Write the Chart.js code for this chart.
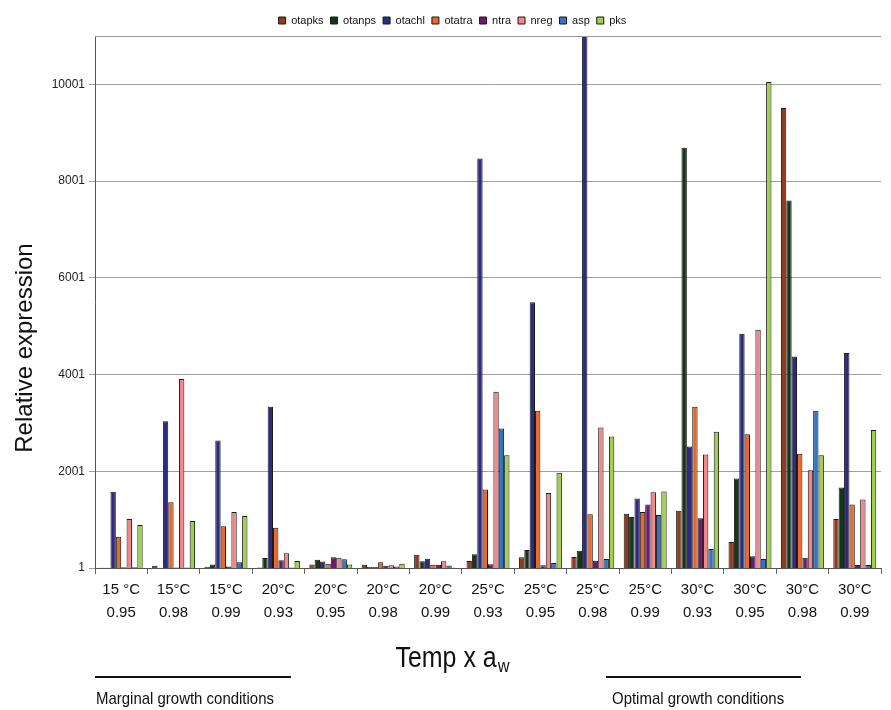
<!DOCTYPE html>
<html>
<head>
<meta charset="utf-8">
<script src="https://cdn.jsdelivr.net/npm/chart.js@4.4.1/dist/chart.umd.min.js"></script>
<style>
html,body{margin:0;padding:0;background:#fff;}
#wrap{width:891px;height:710px;position:relative;}
</style>
</head>
<body>
<div id="wrap"><canvas id="c" width="891" height="710"></canvas></div>
<script>
const categories = [
  ['15 °C','0.95'],['15°C','0.98'],['15°C','0.99'],['20°C','0.93'],['20°C','0.95'],
  ['20°C','0.98'],['20°C','0.99'],['25°C','0.93'],['25°C','0.95'],['25°C','0.98'],
  ['25°C','0.99'],['30°C','0.93'],['30°C','0.95'],['30°C','0.98'],['30°C','0.99']
];
const seriesNames = ['otapks','otanps','otachl','otatra','ntra','nreg','asp','pks'];
const otapks = [8, 50, 25, 10, 72, 66, 273, 145, 221, 228, 1125, 1187, 539, 9511, 1015];
const otanps = [8, 5, 75, 207, 170, 20, 141, 284, 373, 359, 1057, 8690, 1850, 7600, 1664];
const otachl = [1580, 3037, 2636, 3333, 135, 20, 190, 8468, 5494, 11800, 1436, 2512, 4846, 4376, 4446];
const otatra = [648, 1360, 863, 834, 87, 120, 66, 1622, 3251, 1112, 1160, 3334, 2769, 2361, 1312];
const ntra   = [15, 10, 30, 160, 224, 50, 66, 77, 56, 152, 1312, 1030, 243, 214, 63];
const nreg   = [1014, 3907, 1160, 304, 211, 60, 141, 3645, 1553, 2906, 1568, 2347, 4929, 2024, 1415];
const asp    = [15, 10, 120, 10, 182, 30, 55, 2885, 104, 186, 1098, 394, 186, 3251, 63];
const pks    = [890, 973, 1077, 145, 72, 87, 5, 2334, 1968, 2719, 1581, 2817, 10050, 2334, 2852];
const yTicks = [1, 2001, 4001, 6001, 8001, 10001];
const yMin = 1, yMax = 11001;

const seriesData = [otapks, otanps, otachl, otatra, ntra, nreg, asp, pks];
const colors = ['#93391c','#16361a','#2d2a82','#e8692a','#6b1a6e','#f2868a','#3474c2','#9fd04e'];

const REG = "'Liberation Sans',Arial,sans-serif";

function narrowText(ctx, text, x, y, font, sx) {
  ctx.save();
  ctx.font = font;
  ctx.translate(x, y);
  ctx.scale(sx, 1);
  ctx.fillText(text, 0, 0);
  ctx.restore();
}

const decor = {
  id: 'decor',
  afterLayout(chart) {
    const lg = chart.legend;
    if (lg) { lg.left += 12; lg.right += 12; if (lg.legendHitBoxes) lg.legendHitBoxes.forEach(b => b.left += 12); }
  },
  afterDatasetsDraw(chart) {
    const ctx = chart.ctx, a = chart.chartArea;
    ctx.save();
    ctx.strokeStyle = '#9a9a9a'; ctx.lineWidth = 1;
    ctx.beginPath(); ctx.moveTo(a.left, a.top + 0.5); ctx.lineTo(a.right, a.top + 0.5); ctx.stroke();
    ctx.restore();
  },
  afterDraw(chart) {
    const ctx = chart.ctx;
    ctx.save();
    ctx.fillStyle = '#111';
    // y-axis title
    ctx.save();
    ctx.translate(25, 348);
    ctx.rotate(-Math.PI / 2);
    ctx.font = '24px ' + REG;
    ctx.textAlign = 'center';
    ctx.textBaseline = 'middle';
    ctx.fillText('Relative expression', 0, 0);
    ctx.restore();
    ctx.textBaseline = 'alphabetic';
    ctx.textAlign = 'left';
    const sx = 0.86;
    const fMain = '29px ' + REG, fSub = '19px ' + REG;
    ctx.font = fMain;
    const w1 = ctx.measureText('Temp x a').width * sx;
    ctx.font = fSub;
    const w2 = ctx.measureText('w').width * sx;
    const cx = 452, base = 667;
    const x0 = cx - (w1 + w2) / 2;
    narrowText(ctx, 'Temp x a', x0, base, fMain, sx);
    narrowText(ctx, 'w', x0 + w1 + 1, base + 5, fSub, sx);
    ctx.strokeStyle = '#111'; ctx.lineWidth = 2;
    ctx.beginPath(); ctx.moveTo(95, 677); ctx.lineTo(291, 677); ctx.stroke();
    ctx.beginPath(); ctx.moveTo(606, 677); ctx.lineTo(801, 677); ctx.stroke();
    narrowText(ctx, 'Marginal growth conditions', 96, 704, '17px ' + REG, 0.88);
    narrowText(ctx, 'Optimal growth conditions', 612, 704, '17px ' + REG, 0.88);
    ctx.restore();
  }
};

new Chart(document.getElementById('c'), {
  type: 'bar',
  data: {
    labels: categories,
    datasets: seriesNames.map((n, i) => ({
      label: n,
      data: seriesData[i],
      backgroundColor: colors[i],
      borderColor: '#1a1a1a',
      borderWidth: 1,
      categoryPercentage: 0.82,
      barPercentage: 1.0
    }))
  },
  options: {
    responsive: false,
    animation: false,
    layout: { padding: { left: 0, right: 10, top: 8, bottom: 0 } },
    plugins: {
      legend: {
        display: true,
        position: 'top',
        labels: {
          boxWidth: 7, boxHeight: 7, padding: 7,
          color: '#111',
          font: { family: REG, size: 11 }
        }
      },
      tooltip: { enabled: false }
    },
    scales: {
      x: {
        grid: { offset: true, drawOnChartArea: false, drawTicks: true, tickLength: 6, color: '#666' },
        border: { color: '#555', width: 1 },
        ticks: { color: '#111', font: { family: REG, size: 15, lineHeight: 1.5 }, padding: 5, maxRotation: 0, autoSkip: false },
        afterFit(axis) { axis.height = 142; }
      },
      y: {
        min: yMin, max: yMax,
        afterBuildTicks(axis) { axis.ticks = yTicks.map(v => ({ value: v })); },
        grid: { color: '#a0a0a0', tickLength: 6, lineWidth: 1 },
        border: { color: '#555', width: 1 },
        ticks: { color: '#222', font: { family: REG, size: 12 }, padding: 4, callback: v => String(v) },
        title: { display: false },
        afterFit(axis) { axis.width = 95; }
      }
    }
  },
  plugins: [decor]
});
</script>
</body>
</html>
